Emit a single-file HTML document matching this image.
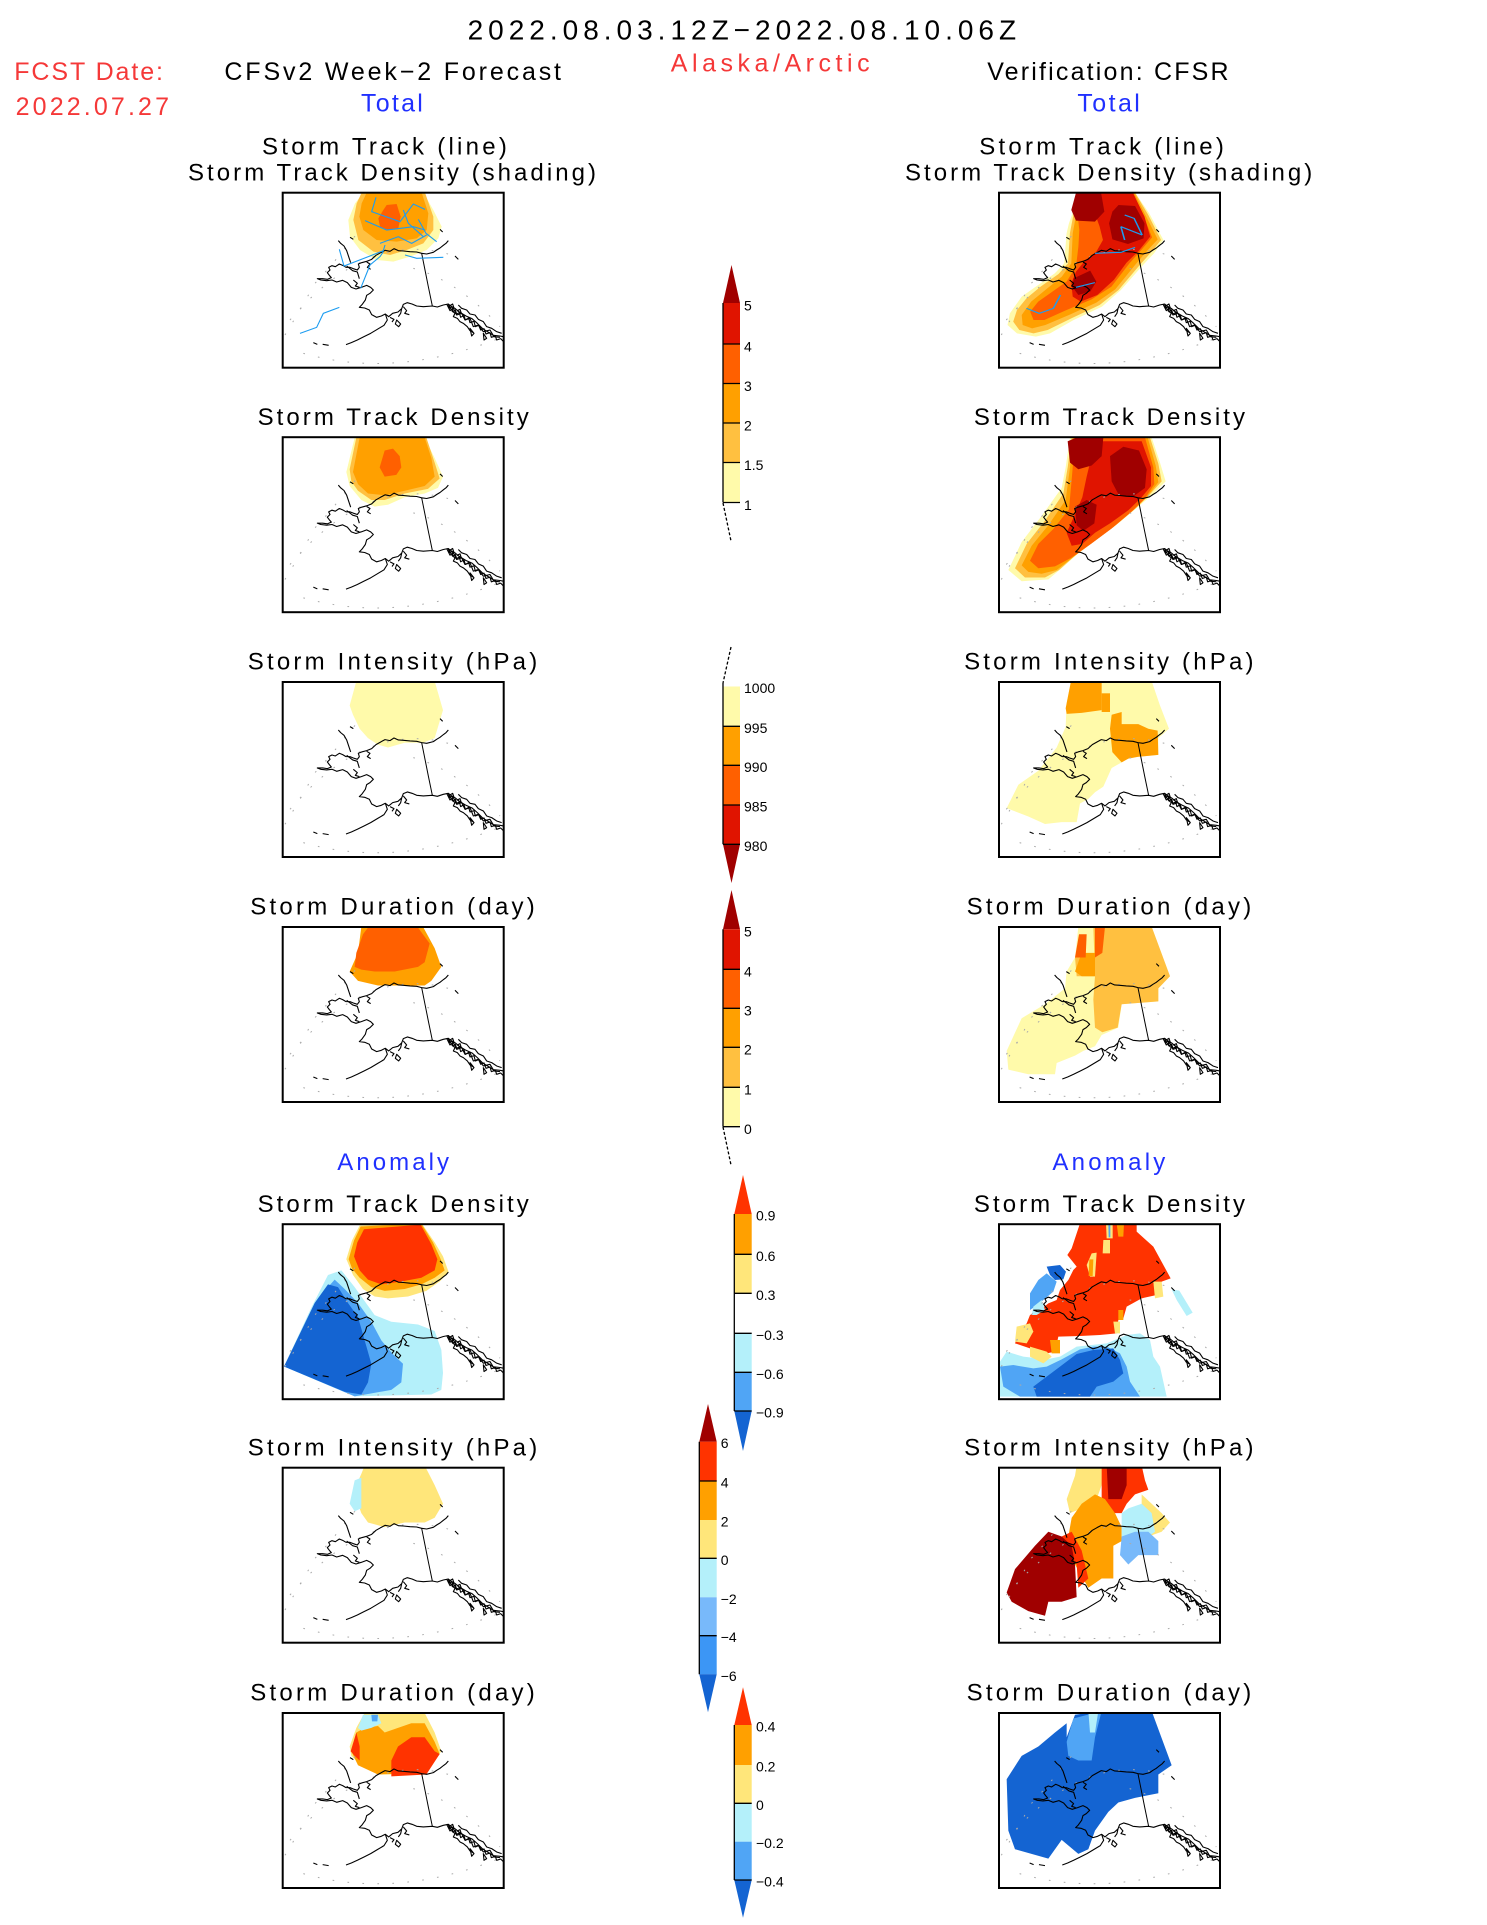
<!DOCTYPE html>
<html><head><meta charset="utf-8"><style>
html,body{margin:0;padding:0;background:#fff}
svg{display:block}
text{font-family:"Liberation Sans",sans-serif}
</style></head><body>
<svg xmlns="http://www.w3.org/2000/svg" xmlns:xlink="http://www.w3.org/1999/xlink" width="1487" height="1925" viewBox="0 0 1487 1925">
<rect width="1487" height="1925" fill="#fff"/>
<defs>
<clipPath id="pc"><rect x="0" y="0" width="221" height="175"/></clipPath>
<g id="coast" transform="translate(-12.7,-12.7) scale(0.33333)" fill="none">
 <g stroke="#aaa" stroke-width="3" stroke-dasharray="5,40">
  <path d="M45,465 L90,390 L135,310 L185,255 L245,178 L275,150"/>
  <path d="M100,520 Q380,600 700,470"/>
  <path d="M430,265 Q560,300 690,440"/>
  <path d="M60,420 Q300,140 560,230"/>
 </g>
 <g stroke="#000" stroke-width="3.3" stroke-linejoin="round">
  <path d="M535,182 L528,190 L520,196 L510,204 L500,210 L490,217 L470,222 L455,220 L440,216 L420,215 L400,213 L385,212 L372,206 L360,214 L345,211 L332,218 L318,226 L305,238 L290,244 L275,248 L265,252 L268,262 L262,270 L250,266 L240,262 L228,262 L218,256 L208,252 L196,260 L186,257 L176,262 L180,270 L172,278 L178,286 L184,293 L172,298 L158,296 L142,296 L152,300 L170,302 L186,300 L200,306 L218,301 L232,308 L244,322 L258,327 L274,322 L290,316 L302,322 L310,330 L300,340 L290,346 L286,360 L276,374 L268,382 L284,384 L298,390 L305,404 L320,412 L334,408 L346,402 L356,410 L368,400 L384,396 L395,386 L400,373 L412,368 L426,372 L440,378 L460,380 L487,378 L502,381 L520,375 L535,372 L545,380 L556,386 L568,396 L588,408 L606,416 L622,430 L638,446 L654,456 L670,466 L690,468 L700,470"/>
  <path d="M346,402 L352,420 L342,436 L322,448 L302,460 L282,470 L262,480 L244,488 L228,494"/>
  <path d="M395,386 L392,400 L385,410"/>
  <path d="M380,420 L392,432 L386,440 L376,432 Z"/>
  <path d="M130,488 L142,493 M158,493 L176,496"/>
  <path d="M205,182 L212,190 L222,198 L230,212 L236,230 L242,248"/>
  <path d="M240,172 L250,178 M510,148 L518,156 M555,228 L565,238"/>
  <path d="M455,220 L465,270 L475,320 L487,378" stroke-width="3"/>
  <path d="M530,372 L540,392 L550,385 L560,405 L575,400 L585,420 L600,415 L610,440 L625,435 L640,455 L660,450 L672,470 L690,472"/>
  <path d="M600,445 L612,460 L605,468 Z M640,460 L650,475 L642,480 Z"/>
  <path d="M230,258 L248,272 L262,276 L268,296"/>
  <path d="M535,372 L538,385 L546,380 L548,395 L556,390 L560,402 L568,398 L572,412 L582,406 L586,420 L596,414 L600,428 L612,424 L616,440 L626,436 L632,450 L642,446 L648,462 L660,458 L664,472 L676,468 L680,480 L692,476 L700,484"/>
  <path d="M545,392 L555,400 L550,410 L562,415 L570,425 L580,430 L592,440 L600,452 L610,458"/>
  <path d="M565,375 L575,385 L590,390 L600,402 L615,405 L625,418 L640,425 L650,440 L665,445 L680,455 L695,460"/>
  <path d="M538,378 L548,372 L552,384 L544,390 Z M562,392 L570,388 L574,400 Z"/>
  <path d="M290,246 L300,252 L292,262 L302,268 M250,300 L262,310 L256,318 L268,322"/>
  <path d="M400,380 L410,392 L404,400 L418,404 M360,412 L372,418 L366,426"/>
 </g>
</g>
</defs>

<!-- Header text -->
<text x="467.6" y="39.3" font-size="28" textLength="548.5" fill="#000">2022.08.03.12Z−2022.08.10.06Z</text>
<text x="14.2" y="80" font-size="25" textLength="148.8" fill="#f53838">FCST Date:</text>
<text x="15.6" y="115" font-size="25" textLength="153.4" fill="#f53838">2022.07.27</text>
<text x="224.4" y="80" font-size="25" textLength="336.6" fill="#000">CFSv2 Week−2 Forecast</text>
<text x="361" y="111.7" font-size="25" textLength="61.8" fill="#2030ff">Total</text>
<text x="670.8" y="71.7" font-size="25" textLength="198.8" fill="#f53838">Alaska/Arctic</text>
<text x="987.2" y="80" font-size="25" textLength="241.4" fill="#000">Verification: CFSR</text>
<text x="1077.4" y="111.7" font-size="25" textLength="62.4" fill="#2030ff">Total</text>

<!-- Panel titles -->
<g font-size="24" fill="#000">
<text x="262" y="154.3" textLength="244.9">Storm Track (line)</text>
<text x="188" y="180.3" textLength="408">Storm Track Density (shading)</text>
<text x="979.2" y="154.3" textLength="244.7">Storm Track (line)</text>
<text x="905" y="180.3" textLength="407.2">Storm Track Density (shading)</text>

<text x="257.6" y="424.8" textLength="271.1">Storm Track Density</text>
<text x="973.9" y="424.8" textLength="271.1">Storm Track Density</text>
<text x="247.8" y="669.6" textLength="289.4">Storm Intensity (hPa)</text>
<text x="964.1" y="669.6" textLength="289.4">Storm Intensity (hPa)</text>
<text x="250.2" y="914.6" textLength="284.6">Storm Duration (day)</text>
<text x="966.6" y="914.6" textLength="284.6">Storm Duration (day)</text>

<text x="337.3" y="1170" textLength="111.7" fill="#2030ff">Anomaly</text>
<text x="1052.4" y="1170" textLength="112.9" fill="#2030ff">Anomaly</text>

<text x="257.6" y="1211.8" textLength="271.1">Storm Track Density</text>
<text x="973.9" y="1211.8" textLength="271.1">Storm Track Density</text>
<text x="247.8" y="1455.3" textLength="289.4">Storm Intensity (hPa)</text>
<text x="964.1" y="1455.3" textLength="289.4">Storm Intensity (hPa)</text>
<text x="250.2" y="1700.6" textLength="284.6">Storm Duration (day)</text>
<text x="966.6" y="1700.6" textLength="284.6">Storm Duration (day)</text>
</g>

<!-- ============ LEFT ROW 1 ============ -->
<g transform="translate(282.7,192.7)">
 <g clip-path="url(#pc)">
  <g transform="translate(-12.7,-12.7) scale(0.33333)">
   <polygon fill="#fffaaa" points="280,38 460,38 490,90 515,140 505,175 470,210 420,230 370,245 320,240 270,210 240,170 235,120 255,70"/>
   <polygon fill="#ffc040" points="275,38 465,38 490,110 490,150 460,190 410,210 360,225 310,215 265,180 250,120 260,70"/>
   <polygon fill="#ffa000" points="290,38 455,38 475,100 470,150 440,175 380,185 320,180 280,150 268,110 275,70"/>
   <polygon fill="#ff6000" points="350,75 380,72 392,110 385,145 355,150 330,140 325,115 340,90"/>
  </g>
  <use xlink:href="#coast"/>
  <g transform="translate(-12.7,-12.7) scale(0.33333)" fill="none" stroke="#1c9cf0" stroke-width="3.3">
   <polyline points="318,52 305,95 390,125 430,72 465,88"/>
   <polyline points="285,122 350,150 430,140 465,150"/>
   <polyline points="445,118 468,160 500,185"/>
   <polyline points="330,190 385,170 425,190 470,165"/>
   <polyline points="400,90 415,130 460,170"/>
   <polyline points="208,208 222,258 300,228 340,212 345,195"/>
   <polyline points="272,325 300,255 330,230 340,215"/>
   <polyline points="405,225 440,235 520,232"/>
   <polyline points="90,460 140,442 160,400 208,382"/>
  </g>
 </g>
 <rect x="0" y="0" width="221" height="175" fill="none" stroke="#000" stroke-width="2"/>
</g>

<!-- ============ RIGHT ROW 1 ============ -->
<g transform="translate(999,192.7)">
 <g clip-path="url(#pc)">
  <g transform="translate(-256,-192.7) scale(0.47237,0.33333)">
   <polygon fill="#fffaaa" points="710,578 830,578 860,640 890,720 870,760 850,790 800,870 760,920 700,960 650,1000 620,1010 580,1000 560,975 565,940 590,890 620,860 660,820 680,790 685,700 690,670 700,630"/>
   <polygon fill="#ffc040" points="712,578 830,578 858,645 885,720 862,760 840,795 795,870 755,915 695,955 645,990 615,1000 585,990 572,965 580,930 600,895 630,860 668,822 688,790 692,700 700,640"/>
   <polygon fill="#ffa000" points="715,578 828,578 852,645 878,718 852,758 830,795 788,868 748,908 690,945 640,975 612,985 592,975 590,945 610,905 640,870 675,830 695,790 698,700 705,645"/>
   <polygon fill="#ff6000" points="720,578 826,578 848,648 866,712 842,752 818,790 780,860 738,898 682,932 638,960 615,960 608,935 625,905 655,875 685,845 705,800 710,740 712,690 708,640"/>
   <polygon fill="#e01400" points="740,580 826,580 850,650 862,710 838,752 812,788 785,840 750,885 715,905 698,890 695,850 705,815 725,780 748,755 762,720 755,680 745,640"/>
   <polygon fill="#a00000" points="705,578 758,578 765,635 745,665 705,662 695,630"/>
   <polygon fill="#a00000" points="795,615 830,618 850,670 848,715 815,732 782,718 775,670 782,635"/>
   <polygon fill="#a00000" points="700,835 735,812 748,845 735,875 710,885 698,862"/>
  </g>
  <use xlink:href="#coast"/>
  <g transform="translate(-256,-192.7) scale(0.47237,0.33333)" fill="none" stroke="#1c9cf0" stroke-width="3.3">
   <polyline points="808,645 828,655 845,705"/>
   <polyline points="800,680 808,720"/>
   <polyline points="800,680 845,705"/>
   <polyline points="745,760 800,757 830,742"/>
   <polyline points="705,862 745,848"/>
   <polyline points="600,925 627,940 657,925 672,885"/>
  </g>
 </g>
 <rect x="0" y="0" width="221" height="175" fill="none" stroke="#000" stroke-width="2"/>
</g>

<!-- ============ LEFT ROW 2 ============ -->
<g transform="translate(282.7,437.2)">
 <g clip-path="url(#pc)">
  <g transform="translate(-4.7,-7.2) scale(0.33333,0.93371)">
   <polygon fill="#fffaaa" points="205,45 230,8 440,8 470,30 495,50 480,62 440,68 380,72 330,80 290,82 250,75 215,60"/>
   <polygon fill="#ffc040" points="215,42 235,8 445,8 470,35 485,52 450,63 380,68 320,75 280,75 240,65 220,55"/>
   <polygon fill="#ffa000" points="225,45 245,8 440,8 460,30 470,50 440,60 380,65 320,70 270,68 240,58"/>
   <polygon fill="#ff6000" points="305,40 320,22 345,20 365,28 370,40 355,48 320,50"/>
  </g>
  <use xlink:href="#coast"/>
 </g>
 <rect x="0" y="0" width="221" height="175" fill="none" stroke="#000" stroke-width="2"/>
</g>

<!-- ============ RIGHT ROW 2 ============ -->
<g transform="translate(999,437.2)">
 <g clip-path="url(#pc)">
  <g transform="translate(-4,-7.2) scale(0.33333,0.93371)">
   <polygon fill="#fffaaa" points="225,8 470,8 495,35 512,55 470,70 430,82 370,100 310,116 250,132 200,148 160,160 80,162 40,150 80,120 140,92 200,62 212,40"/>
   <polygon fill="#ffc040" points="230,8 465,8 490,36 500,55 462,70 422,84 362,102 302,118 242,134 192,150 150,158 90,158 60,148 95,122 150,97 205,68 218,40"/>
   <polygon fill="#ffa000" points="235,8 458,8 482,38 490,56 455,72 415,86 355,104 295,120 235,136 185,150 140,154 100,152 80,145 110,124 160,102 212,75 225,40"/>
   <polygon fill="#ff6000" points="240,8 450,8 475,40 478,58 448,74 408,88 348,106 288,122 228,137 180,146 130,148 105,140 130,122 175,106 222,85 232,45"/>
   <polygon fill="#e01400" points="258,12 440,12 468,40 468,60 440,72 400,86 345,100 300,110 262,122 230,124 215,110 238,92 262,72 275,50 290,28"/>
   <polygon fill="#a00000" points="218,12 245,8 325,8 320,28 290,38 250,42 225,35"/>
   <polygon fill="#a00000" points="345,28 385,18 432,22 455,42 450,62 412,72 372,70 350,55"/>
   <polygon fill="#a00000" points="240,82 275,75 305,80 298,100 265,108 245,102"/>
  </g>
  <use xlink:href="#coast"/>
 </g>
 <rect x="0" y="0" width="221" height="175" fill="none" stroke="#000" stroke-width="2"/>
</g>

<!-- ============ LEFT ROW 3 ============ -->
<g transform="translate(282.7,682)">
 <g clip-path="url(#pc)">
  <g transform="translate(-4.7,-252) scale(0.33333,0.93371)">
   <polygon fill="#fffaaa" points="215,295 235,269 470,269 495,300 470,330 435,335 380,335 330,340 300,337 270,330 245,320 225,305"/>
  </g>
  <use xlink:href="#coast"/>
 </g>
 <rect x="0" y="0" width="221" height="175" fill="none" stroke="#000" stroke-width="2"/>
</g>

<!-- ============ RIGHT ROW 3 ============ -->
<g transform="translate(999,682)">
 <g clip-path="url(#pc)">
  <g transform="translate(-4,-252) scale(0.33333,0.93371)">
   <polygon fill="#fffaaa" points="215,292 228,269 470,269 495,295 522,320 490,330 490,348 430,350 400,352 380,356 350,362 325,382 300,388 280,395 255,400 245,420 200,420 150,422 100,414 35,405 70,380 130,365 185,340 212,318"/>
   <polygon fill="#ffa000" points="212,298 228,269 320,269 320,300 260,303 215,304"/>
   <polygon fill="#ffa000" points="320,282 345,282 345,302 320,302"/>
   <polygon fill="#ffa000" points="350,305 380,302 380,315 430,315 460,320 488,322 490,348 430,350 400,352 380,356 352,345 345,320"/>
  </g>
  <use xlink:href="#coast"/>
 </g>
 <rect x="0" y="0" width="221" height="175" fill="none" stroke="#000" stroke-width="2"/>
</g>

<!-- ============ LEFT ROW 4 ============ -->
<g transform="translate(282.7,927)">
 <g clip-path="url(#pc)">
  <g transform="translate(-4.7,-497) scale(0.33333,0.93371)">
   <polygon fill="#ffa000" points="215,580 240,560 250,532 435,532 470,555 490,575 460,590 440,595 300,595 240,590 220,582"/>
   <polygon fill="#ff6000" points="235,560 255,540 270,533 420,533 455,550 440,570 420,575 350,580 290,580 250,578 230,575"/>
  </g>
  <use xlink:href="#coast"/>
 </g>
 <rect x="0" y="0" width="221" height="175" fill="none" stroke="#000" stroke-width="2"/>
</g>

<!-- ============ RIGHT ROW 4 ============ -->
<g transform="translate(999,927)">
 <g clip-path="url(#pc)">
  <g transform="translate(-4,-497) scale(0.33333,0.93371)">
   <polygon fill="#fffaaa" points="35,665 80,630 150,615 210,598 215,580 240,565 250,532 470,532 525,585 490,598 490,612 380,615 370,640 320,648 300,660 265,665 240,670 185,678 180,690 100,690 40,685"/>
   <polygon fill="#ffc040" points="295,532 470,532 525,585 490,598 490,612 380,615 368,640 322,645 300,640 295,610 300,585"/>
   <polygon fill="#ffc040" points="240,565 300,565 300,585 245,585"/>
   <polygon fill="#ffa000" points="240,580 260,560 300,560 300,585 260,585"/>
   <polygon fill="#ff6000" points="240,565 252,540 275,540 272,565"/>
   <polygon fill="#ff6000" points="300,532 330,532 322,560 300,565"/>
  </g>
  <use xlink:href="#coast"/>
 </g>
 <rect x="0" y="0" width="221" height="175" fill="none" stroke="#000" stroke-width="2"/>
</g>

<!-- ============ LEFT ROW 5 ============ -->
<g transform="translate(282.7,1224.2)">
 <g clip-path="url(#pc)">
  <g transform="translate(-4.7,-794.2) scale(0.33333,0.93371)">
   <polygon fill="#b4f0fa" points="150,905 190,900 230,918 290,948 340,955 420,958 470,965 490,985 495,1010 490,1028 460,1033 230,1035 18,1003 100,940"/>
   <polygon fill="#50a5f5" points="200,920 240,935 280,955 310,975 345,990 375,1000 370,1020 340,1028 230,1035 18,1003 120,930 170,910"/>
   <polygon fill="#1464d2" points="18,1003 110,935 150,915 180,918 210,935 240,950 260,975 280,1000 270,1020 250,1033 200,1030"/>
   <polygon fill="#ffe67a" points="205,888 222,868 245,852 430,849 470,870 495,885 512,902 485,912 445,922 390,928 330,930 290,928 255,920 225,905"/>
   <polygon fill="#ffa000" points="212,888 228,868 248,853 430,850 465,870 488,888 500,900 470,908 430,915 380,920 320,922 280,918 245,908 222,898"/>
   <polygon fill="#ff3300" points="228,885 238,870 258,856 428,851 460,872 478,888 470,900 430,908 370,912 310,915 270,910 245,900"/>
  </g>
  <use xlink:href="#coast"/>
 </g>
 <rect x="0" y="0" width="221" height="175" fill="none" stroke="#000" stroke-width="2"/>
</g>

<!-- ============ RIGHT ROW 5 ============ -->
<g transform="translate(999,1224.2)">
 <g clip-path="url(#pc)">
  <g transform="translate(-19,-24.2) scale(0.33333)">
   <polygon fill="#b4f0fa" points="60,485 80,455 130,470 200,478 240,470 290,440 380,430 440,405 480,400 510,420 520,470 540,500 560,590 60,590"/>
   <polygon fill="#50a5f5" points="60,500 100,495 160,505 200,500 245,478 300,448 340,440 380,440 420,460 440,500 450,545 480,590 120,590 70,560"/>
   <polygon fill="#1464d2" points="200,530 240,500 290,462 340,450 400,445 420,480 430,520 400,545 350,560 330,590 170,590 160,560 180,545"/>
   <polygon fill="#b4f0fa" points="575,268 598,272 638,338 620,348 590,300"/>
   <polygon fill="#ff3300" points="300,70 470,70 470,95 520,140 572,235 545,245 530,285 485,295 440,320 430,355 415,360 410,400 360,405 300,408 235,410 225,455 200,460 150,445 105,430 120,395 140,370 150,345 180,330 205,310 230,300 240,270 265,240 280,210 290,200 262,165 275,145"/>
   <polygon fill="#ffe67a" points="335,160 350,158 345,230 330,230 320,195"/>
   <polygon fill="#ffa000" points="328,178 340,178 338,228 326,228"/>
   <polygon fill="#ffe67a" points="370,120 390,120 390,160 368,160"/>
   <polygon fill="#ffe67a" points="378,70 398,70 398,115 380,115"/>
   <polygon fill="#50a5f5" points="385,70 391,70 391,112 386,112"/>
   <polygon fill="#ffa000" points="410,70 432,70 430,110 415,110"/>
   <polygon fill="#ffe67a" points="110,380 150,370 160,395 140,430 105,425"/>
   <polygon fill="#ffe67a" points="150,440 200,455 215,470 190,490 150,470"/>
   <polygon fill="#ffa000" points="210,420 240,420 240,460 215,460"/>
   <polygon fill="#ffa000" points="415,330 430,330 430,360 415,360"/>
   <polygon fill="#ffe67a" points="400,365 420,365 420,400 405,400"/>
   <polygon fill="#ffe67a" points="520,245 545,245 550,290 525,295"/>
   <polygon fill="#50a5f5" points="150,280 175,240 200,220 230,245 220,275 190,300 165,320 150,330"/>
   <polygon fill="#1464d2" points="200,200 240,195 258,215 250,238 225,240 210,225"/>
   <polygon fill="#b4f0fa" points="160,320 185,300 195,330 170,345 155,345"/>
  </g>
  <use xlink:href="#coast"/>
 </g>
 <rect x="0" y="0" width="221" height="175" fill="none" stroke="#000" stroke-width="2"/>
</g>

<!-- ============ LEFT ROW 6 ============ -->
<g transform="translate(282.7,1467.7)">
 <g clip-path="url(#pc)">
  <g transform="translate(-4.7,-1037.7) scale(0.33333,0.93371)">
   <polygon fill="#ffe67a" points="235,1130 250,1118 260,1109 440,1109 470,1130 495,1150 470,1165 440,1170 380,1170 320,1175 270,1170 250,1160 240,1150"/>
   <polygon fill="#b4f0fa" points="215,1150 230,1125 250,1122 250,1155 230,1158"/>
  </g>
  <use xlink:href="#coast"/>
 </g>
 <rect x="0" y="0" width="221" height="175" fill="none" stroke="#000" stroke-width="2"/>
</g>

<!-- ============ RIGHT ROW 6 ============ -->
<g transform="translate(999,1467.7)">
 <g clip-path="url(#pc)">
  <g transform="translate(-4,-1037.7) scale(0.33333,0.93371)">
   <polygon fill="#ffe67a" points="215,1145 240,1120 245,1109 330,1109 320,1130 300,1150 260,1155 225,1160"/>
   <polygon fill="#ff3300" points="320,1109 440,1109 450,1125 460,1135 420,1140 395,1150 380,1160 340,1160 320,1150"/>
   <polygon fill="#a00000" points="335,1109 395,1109 395,1130 380,1145 340,1145"/>
   <polygon fill="#ffa000" points="215,1195 230,1165 260,1150 300,1140 330,1145 360,1160 380,1175 380,1190 355,1195 355,1230 320,1230 280,1240 240,1215"/>
   <polygon fill="#ffe67a" points="440,1140 470,1150 500,1160 525,1170 500,1180 460,1185 440,1170"/>
   <polygon fill="#b4f0fa" points="380,1160 400,1155 440,1150 470,1160 480,1180 440,1190 400,1200 380,1190"/>
   <polygon fill="#78b9fa" points="380,1185 420,1180 460,1180 490,1190 490,1205 430,1205 400,1215 375,1205"/>
   <polygon fill="#ff3300" points="200,1185 230,1180 260,1200 280,1230 250,1240 245,1215"/>
   <polygon fill="#a00000" points="35,1245 60,1220 120,1195 160,1180 200,1185 230,1195 240,1215 245,1250 200,1255 160,1255 150,1270 100,1265 50,1255"/>
  </g>
  <use xlink:href="#coast"/>
 </g>
 <rect x="0" y="0" width="221" height="175" fill="none" stroke="#000" stroke-width="2"/>
</g>

<!-- ============ LEFT ROW 7 ============ -->
<g transform="translate(282.7,1713)">
 <g clip-path="url(#pc)">
  <g transform="translate(-4.7,-1283) scale(0.33333,0.93371)">
   <polygon fill="#ffe67a" points="215,1410 235,1390 260,1374 440,1374 470,1395 490,1415 470,1425 440,1440 300,1440 250,1430 220,1420"/>
   <polygon fill="#ffa000" points="220,1415 235,1395 260,1390 300,1388 320,1395 400,1385 440,1385 470,1405 485,1418 445,1438 300,1440 240,1430"/>
   <polygon fill="#ff3300" points="218,1415 235,1395 245,1410 245,1425 230,1420"/>
   <polygon fill="#ff3300" points="340,1425 360,1410 400,1400 440,1400 470,1415 485,1418 445,1440 340,1442"/>
   <polygon fill="#b4f0fa" points="240,1390 255,1376 300,1376 310,1385 280,1390 250,1393"/>
   <polygon fill="#50a5f5" points="280,1376 300,1376 298,1383 282,1383"/>
  </g>
  <use xlink:href="#coast"/>
 </g>
 <rect x="0" y="0" width="221" height="175" fill="none" stroke="#000" stroke-width="2"/>
</g>

<!-- ============ RIGHT ROW 7 ============ -->
<g transform="translate(999,1713)">
 <g clip-path="url(#pc)">
  <g transform="translate(-4,-1283) scale(0.33333,0.93371)">
   <polygon fill="#1464d2" points="35,1445 80,1420 130,1410 180,1395 215,1385 215,1400 240,1376 320,1372 470,1372 530,1430 490,1440 490,1460 420,1465 370,1470 340,1480 300,1500 280,1520 250,1525 200,1510 160,1530 60,1520 40,1500"/>
   <polygon fill="#50a5f5" points="215,1405 235,1380 320,1372 300,1400 290,1425 250,1425 220,1420"/>
   <polygon fill="#b4f0fa" points="280,1372 310,1372 300,1395 285,1395"/>
  </g>
  <use xlink:href="#coast"/>
 </g>
 <rect x="0" y="0" width="221" height="175" fill="none" stroke="#000" stroke-width="2"/>
</g>

<!-- ============ COLORBARS ============ -->
<g font-size="14" fill="#000">
<!-- CB1 -->
<polygon points="731.5,265 740,303 723,303" fill="#a00000"/>
<rect x="723" y="303" width="17" height="41" fill="#e01400"/>
<rect x="723" y="344" width="17" height="39.5" fill="#ff6000"/>
<rect x="723" y="383.5" width="17" height="39.5" fill="#ffa000"/>
<rect x="723" y="423" width="17" height="39.5" fill="#ffc040"/>
<rect x="723" y="462.5" width="17" height="40" fill="#fffaaa"/>
<g stroke="#000" stroke-width="1.3">
 <line x1="723" y1="303" x2="723" y2="502.5"/>
 <line x1="723" y1="344" x2="740" y2="344"/>
 <line x1="723" y1="383.5" x2="740" y2="383.5"/>
 <line x1="723" y1="423" x2="740" y2="423"/>
 <line x1="723" y1="462.5" x2="740" y2="462.5"/>
 <line x1="723" y1="502.5" x2="740" y2="502.5"/>
 <line x1="723" y1="503" x2="731" y2="541" stroke-dasharray="3,2"/>
</g>
<text x="744" y="310.5">5</text><text x="744" y="351.5">4</text><text x="744" y="391">3</text><text x="744" y="430.5">2</text><text x="744" y="470">1.5</text><text x="744" y="510">1</text>

<!-- CB2 -->
<rect x="723" y="686.5" width="17" height="39.8" fill="#fffaaa"/>
<rect x="723" y="726.3" width="17" height="39" fill="#ffa000"/>
<rect x="723" y="765.3" width="17" height="39.7" fill="#ff6000"/>
<rect x="723" y="805" width="17" height="39.3" fill="#e01400"/>
<polygon points="723,844.3 740,844.3 731.5,883" fill="#a00000"/>
<g stroke="#000" stroke-width="1.3">
 <line x1="723" y1="683" x2="723" y2="844.3"/>
 <line x1="723" y1="726.3" x2="740" y2="726.3"/>
 <line x1="723" y1="765.3" x2="740" y2="765.3"/>
 <line x1="723" y1="805" x2="740" y2="805"/>
 <line x1="723" y1="844.3" x2="740" y2="844.3"/>
 <line x1="731" y1="647" x2="723" y2="683" stroke-dasharray="3,2"/>
</g>
<text x="744" y="693">1000</text><text x="744" y="732.8">995</text><text x="744" y="771.8">990</text><text x="744" y="811.5">985</text><text x="744" y="850.8">980</text>

<!-- CB3 -->
<polygon points="731.5,890 740,929.3 723,929.3" fill="#a00000"/>
<rect x="723" y="929.3" width="17" height="40" fill="#e01400"/>
<rect x="723" y="969.3" width="17" height="39" fill="#ff6000"/>
<rect x="723" y="1008.3" width="17" height="39" fill="#ffa000"/>
<rect x="723" y="1047.3" width="17" height="40" fill="#ffc040"/>
<rect x="723" y="1087.3" width="17" height="39.4" fill="#fffaaa"/>
<g stroke="#000" stroke-width="1.3">
 <line x1="723" y1="929.3" x2="723" y2="1126.7"/>
 <line x1="723" y1="969.3" x2="740" y2="969.3"/>
 <line x1="723" y1="1008.3" x2="740" y2="1008.3"/>
 <line x1="723" y1="1047.3" x2="740" y2="1047.3"/>
 <line x1="723" y1="1087.3" x2="740" y2="1087.3"/>
 <line x1="723" y1="1126.7" x2="740" y2="1126.7"/>
 <line x1="723" y1="1127" x2="731" y2="1165" stroke-dasharray="3,2"/>
</g>
<text x="744" y="936.5">5</text><text x="744" y="976.5">4</text><text x="744" y="1015.5">3</text><text x="744" y="1054.5">2</text><text x="744" y="1094.5">1</text><text x="744" y="1134">0</text>

<!-- CB4 anomaly STD -->
<polygon points="743,1175 751.7,1214 734.3,1214" fill="#ff3300"/>
<rect x="734.3" y="1214" width="17.4" height="40.3" fill="#ffa000"/>
<rect x="734.3" y="1254.3" width="17.4" height="39" fill="#ffe67a"/>
<rect x="734.3" y="1293.3" width="17.4" height="40" fill="#fff"/>
<rect x="734.3" y="1333.3" width="17.4" height="39" fill="#b4f0fa"/>
<rect x="734.3" y="1372.3" width="17.4" height="38.7" fill="#50a5f5"/>
<polygon points="734.3,1411 751.7,1411 743,1451" fill="#1464d2"/>
<g stroke="#000" stroke-width="1.3">
 <line x1="734.3" y1="1214" x2="734.3" y2="1411"/>
 <line x1="734.3" y1="1254.3" x2="751.7" y2="1254.3"/>
 <line x1="734.3" y1="1293.3" x2="751.7" y2="1293.3"/>
 <line x1="734.3" y1="1333.3" x2="751.7" y2="1333.3"/>
 <line x1="734.3" y1="1372.3" x2="751.7" y2="1372.3"/>
 <line x1="734.3" y1="1411" x2="751.7" y2="1411"/>
</g>
<text x="756" y="1220.5">0.9</text><text x="756" y="1260.8">0.6</text><text x="756" y="1299.8">0.3</text><text x="756" y="1339.8">−0.3</text><text x="756" y="1378.8">−0.6</text><text x="756" y="1417.5">−0.9</text>

<!-- CB5 anomaly intensity -->
<polygon points="708,1404 716.7,1441.7 699.3,1441.7" fill="#a00000"/>
<rect x="699.3" y="1441.7" width="17.4" height="39.3" fill="#ff3300"/>
<rect x="699.3" y="1481" width="17.4" height="39" fill="#ffa000"/>
<rect x="699.3" y="1520" width="17.4" height="38.3" fill="#ffe67a"/>
<rect x="699.3" y="1558.3" width="17.4" height="39" fill="#b4f0fa"/>
<rect x="699.3" y="1597.3" width="17.4" height="38.4" fill="#78b9fa"/>
<rect x="699.3" y="1635.7" width="17.4" height="38.6" fill="#3c96f5"/>
<polygon points="699.3,1674.3 716.7,1674.3 708,1712.3" fill="#1464d2"/>
<g stroke="#000" stroke-width="1.3">
 <line x1="699.3" y1="1441.7" x2="699.3" y2="1674.3"/>
 <line x1="699.3" y1="1481" x2="716.7" y2="1481"/>
 <line x1="699.3" y1="1558.3" x2="716.7" y2="1558.3"/>
 <line x1="699.3" y1="1635.7" x2="716.7" y2="1635.7"/>
</g>
<text x="720.7" y="1448.2">6</text><text x="720.7" y="1487.5">4</text><text x="720.7" y="1526.5">2</text><text x="720.7" y="1564.8">0</text><text x="720.7" y="1603.8">−2</text><text x="720.7" y="1642.2">−4</text><text x="720.7" y="1680.8">−6</text>

<!-- CB6 anomaly duration -->
<polygon points="743,1687.3 751.7,1725 734.3,1725" fill="#ff3300"/>
<rect x="734.3" y="1725" width="17.4" height="40" fill="#ffa000"/>
<rect x="734.3" y="1765" width="17.4" height="38.3" fill="#ffe67a"/>
<rect x="734.3" y="1803.3" width="17.4" height="38.4" fill="#b4f0fa"/>
<rect x="734.3" y="1841.7" width="17.4" height="38.3" fill="#50a5f5"/>
<polygon points="734.3,1880 751.7,1880 743,1917.7" fill="#1464d2"/>
<g stroke="#000" stroke-width="1.3">
 <line x1="734.3" y1="1725" x2="734.3" y2="1880"/>
 <line x1="734.3" y1="1803.3" x2="751.7" y2="1803.3"/>
 <line x1="734.3" y1="1880" x2="751.7" y2="1880"/>
</g>
<text x="756" y="1731.5">0.4</text><text x="756" y="1771.5">0.2</text><text x="756" y="1809.8">0</text><text x="756" y="1848.2">−0.2</text><text x="756" y="1886.5">−0.4</text>
</g>
</svg>
</body></html>
